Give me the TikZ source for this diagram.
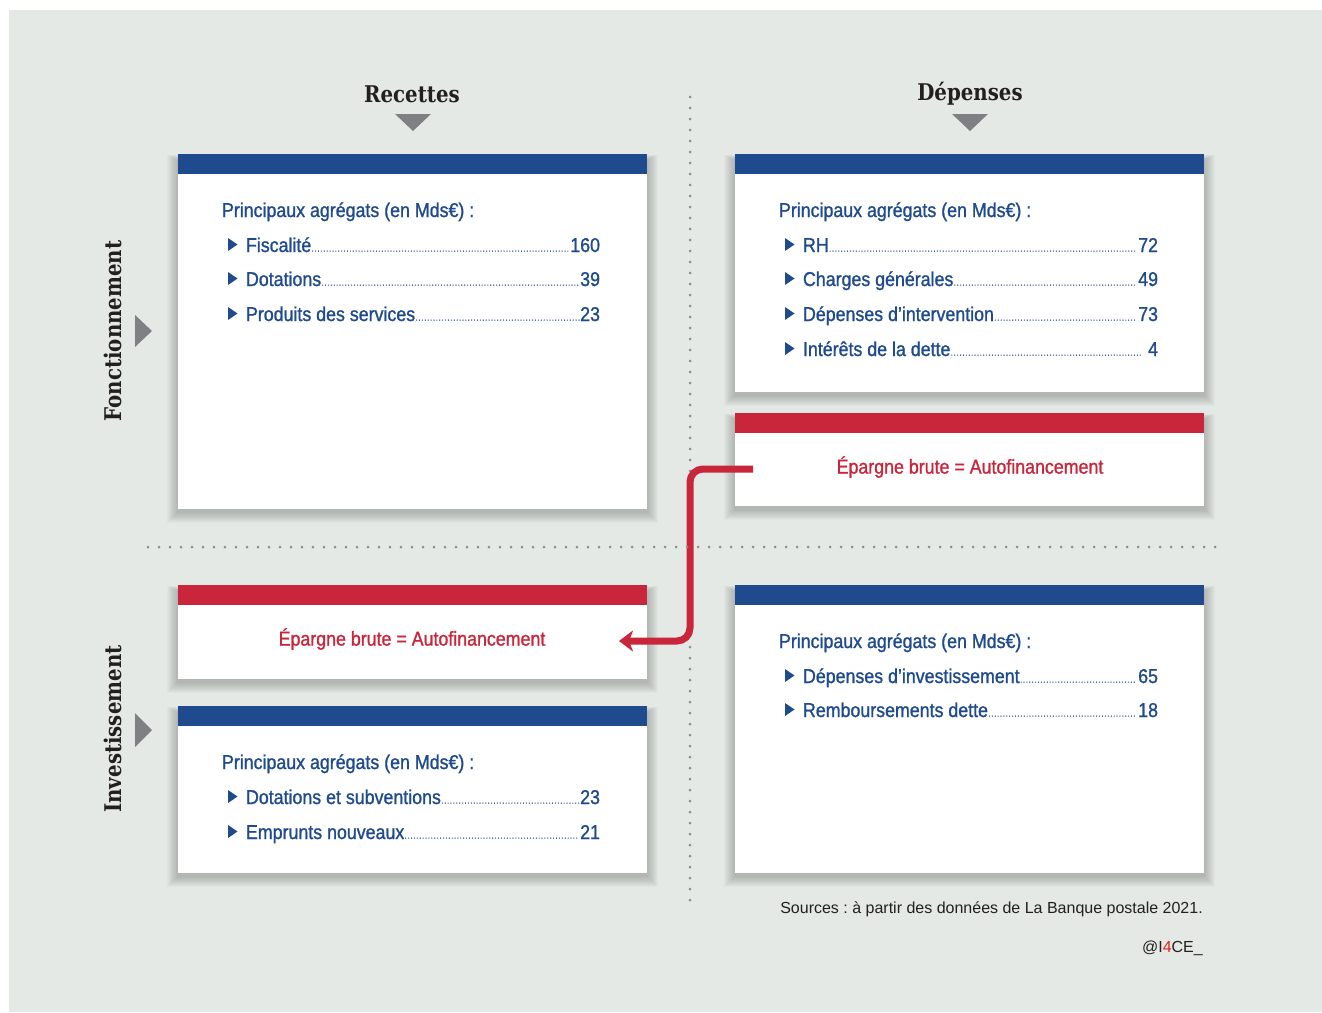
\documentclass[tikz,border=0pt]{standalone}
\usepackage{fontspec}
\setmainfont{Liberation Sans}
\newfontfamily\condf{Liberation Sans}[FakeStretch=0.89,FakeBold=1.1]
\newfontfamily\slabf{DejaVu Serif}[FakeStretch=0.86]
\usetikzlibrary{arrows.meta}
\frenchspacing
\definecolor{bgc}{HTML}{E4E9E6}
\definecolor{ublue}{HTML}{1F4A8D}
\definecolor{ured}{HTML}{C9253B}
\definecolor{tgrey}{HTML}{7F8083}
\definecolor{dgrey}{HTML}{8C8F8F}
\definecolor{dark}{HTML}{231F20}
\definecolor{ired}{HTML}{E2231A}
\newcommand\panelbox[6]{%
  \foreach \k in {1,...,11}{\fill[black,opacity=0.018] (#2-\k,#3+6-\k*0.5) rectangle (#4+\k,#5+\k+3);}
  \node[panel, minimum width={(#4-#2)*1pt}, minimum height={(#5-#3)*1pt}] (#1) at (#2,#3) {};
  \node[barbox, fill=#6, minimum width={(#4-#2)*1pt}] (#1bar) at (#2,#3) {};
}
\newcommand\itemrow[6]{%
  \fill[ublue] (#2,#3-14) -- (#2+9.5,#3-7.5) -- (#2,#3-1) -- cycle;
  \node[txt, anchor=base west] (#1l) at (#2+18,#3) {#5};
  \node[txt, anchor=base east] (#1v) at (#4,#3) {#6};
  \draw[leader] ([xshift=1.4pt,yshift=0.9pt]#1l.base east) -- ([xshift=-1.2pt,yshift=0.9pt]#1v.base west);
}
\begin{document}
\begin{tikzpicture}[x=1pt,y=-1pt,
  panel/.style={fill=white, anchor=north west, inner sep=0, outer sep=0},
  barbox/.style={anchor=north west, minimum height=20pt, inner sep=0, outer sep=0},
  txt/.style={font=\condf\fontsize{20}{23}\selectfont, text=ublue, inner sep=0, outer sep=0},
  rtxt/.style={font=\condf\fontsize{20}{23}\selectfont, text=ured, inner sep=0, outer sep=0},
  head/.style={font=\slabf\bfseries\fontsize{23}{27}\selectfont, text=dark, inner sep=0},
  side/.style={font=\slabf\bfseries\fontsize{23}{27}\selectfont, text=dark, inner sep=0, rotate=90},
  tri/.style={fill=tgrey},
  leader/.style={ublue, line width=1.4pt, line cap=round, dash pattern=on 0pt off 2.9pt},
  dotline/.style={dgrey, line width=3pt, line cap=round, dash pattern=on 0pt off 11pt},
  conn/.style={ured, line width=7pt, rounded corners=13pt, -{Stealth[length=14pt,width=21pt,inset=4pt]}}
]
\useasboundingbox (0,0) rectangle (1322,1012);
\fill[bgc] (9,10) rectangle (1322,1012);

% headers
\node[head] (rec) at (412,94) {Recettes};
\node[head] (dep) at (970,94) {Dépenses};
\fill[tri] (395,114) -- (431,114) -- (413,131) -- cycle;
\fill[tri] (952,114) -- (988,114) -- (970,131) -- cycle;

% side labels
\node[side] (fonc) at (113,331) {Fonctionnement};
\node[side] (inv) at (113,729) {Investissement};
\fill[tri] (135,315) -- (152,331) -- (135,347) -- cycle;
\fill[tri] (135,713) -- (152,730) -- (135,747) -- cycle;

% dotted vertical
\draw[dotline] (690,97) -- (690,908);

% panels
\panelbox{tl}{178}{154}{647}{509}{ublue}
\panelbox{tr}{735}{154}{1204}{392}{ublue}
\panelbox{trr}{735}{413}{1204}{506}{ured}
\panelbox{blr}{178}{585}{647}{679}{ured}
\panelbox{bl}{178}{706}{647}{873}{ublue}
\panelbox{br}{735}{585}{1204}{873}{ublue}

% TL content
\node[txt, anchor=base west] (tlh) at (222,217) {Principaux agrégats (en Mds€) :};
\itemrow{a1}{228}{252}{600}{Fiscalité}{160}
\itemrow{a2}{228}{286}{600}{Dotations}{39}
\itemrow{a3}{228}{321}{600}{Produits des services}{23}

% TR content
\node[txt, anchor=base west] (trh) at (779,217) {Principaux agrégats (en Mds€) :};
\itemrow{b1}{785}{252}{1158}{RH\hspace{3pt}}{72}
\itemrow{b2}{785}{286}{1158}{Charges générales\hspace{3pt}}{49}
\itemrow{b3}{785}{321}{1158}{Dépenses d’intervention}{73}
\itemrow{b4}{785}{356}{1158}{Intérêts de la dette\hspace{2pt}}{\hspace{4pt}4}

% red boxes text
\node[rtxt] (ep1) at (970,467) {Épargne brute = Autofinancement};
\node[rtxt] (ep2) at (412,639) {Épargne brute = Autofinancement};

% BR content
\node[txt, anchor=base west] (brh) at (779,648) {Principaux agrégats (en Mds€) :};
\itemrow{c1}{785}{683}{1158}{Dépenses d’investissement}{65}
\itemrow{c2}{785}{717}{1158}{Remboursements dette}{18}

% BL content
\node[txt, anchor=base west] (blh) at (222,769) {Principaux agrégats (en Mds€) :};
\itemrow{d1}{228}{804}{600}{Dotations et subventions}{23}
\itemrow{d2}{228}{839}{600}{Emprunts nouveaux}{21}

% connector
\coordinate (cs) at (753,469);
\coordinate (ce) at (619,641);
\draw[conn] (cs) -- (690,469) -- (690,641) -- (ce);

% dotted horizontal
\draw[dotline] (148,547) -- (1222,547);

% footer
\node[anchor=base east, inner sep=0, text=dark, font=\fontsize{16}{19}\selectfont] (src) at (1203,913) {Sources : à partir des données de La Banque postale 2021.};
\node[anchor=base east, inner sep=0, text=dark, font=\fontsize{16}{19}\selectfont] (tag) at (1203,952) {@I\textcolor{ired}{4}CE\_};
\end{tikzpicture}
\end{document}
